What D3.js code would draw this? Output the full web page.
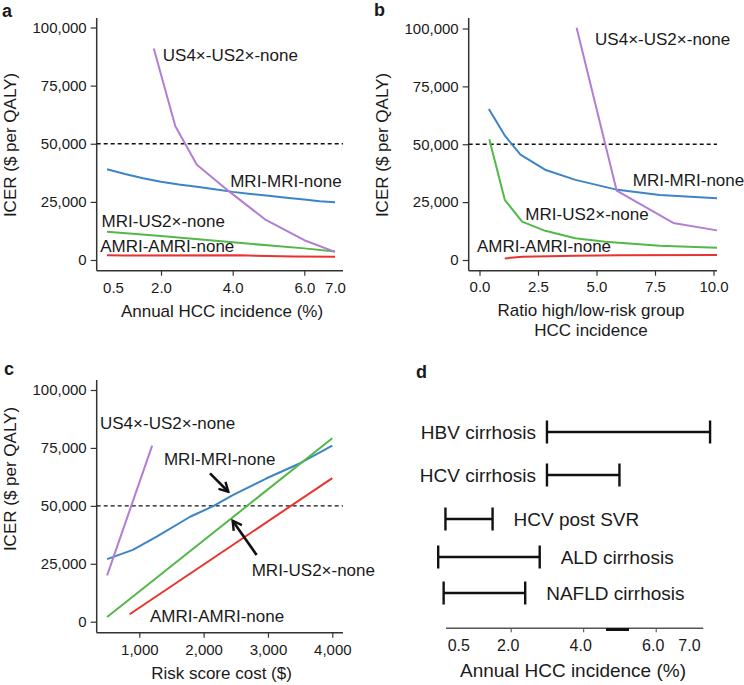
<!DOCTYPE html>
<html><head><meta charset="utf-8">
<script src="https://cdn.jsdelivr.net/npm/d3@7"></script>
<style>
body{margin:0;background:#fff}
svg{display:block}
text{font-family:"Liberation Sans",Arial,sans-serif;fill:#1a1a1a}
</style>
</head><body>
<svg id="chart" width="744" height="685"></svg>
<script>
// ---------------- DATA ----------------
const yTickValues = [0, 25000, 50000, 75000, 100000];
const wtpThreshold = 50000;
const strategyNames = ["US4×-US2×-none", "MRI-MRI-none", "MRI-US2×-none", "AMRI-AMRI-none"];
const strategyColors = ["#b27dd2", "#3d84c6", "#52b948", "#e8332e"];

// Panel a: annual HCC incidence (%)
const aTickValues = [0.5, 2, 4, 6, 7];
const aUS4X = [1.8, 2.4, 3.0, 3.9, 4.9, 6.0, 7.0];
const aUS4Y = [91000, 57500, 41000, 29500, 17500, 8500, 3500];
const aMRIX = [0.5, 1, 1.5, 2, 2.5, 3, 3.5, 4, 4.5, 5, 5.5, 6, 6.5, 7];
const aMRIY = [39000, 37000, 35200, 33700, 32500, 31500, 30400, 29300, 28400, 27600, 26800, 26000, 25300, 24800];
const aMRIUSX = [0.5, 2, 4, 6, 7];
const aMRIUSY = [12200, 10300, 7600, 5000, 3700];
const aAMRIX = [0.5, 1, 4.2, 5.7, 7];
const aAMRIY = [2000, 1900, 2000, 1500, 1400];

// Panel b: ratio high/low-risk group HCC incidence
const bTickValues = [0, 2.5, 5, 7.5, 10];
const bUS4X = [4.15, 5.86, 8.28, 10.15];
const bUS4Y = [100300, 30000, 16000, 12800];
const bMRIX = [0.4, 1.1, 1.75, 2.8, 4.1, 5.9, 7.7, 10.15];
const bMRIY = [65200, 53500, 45500, 39000, 34600, 30300, 28100, 26700];
const bMRIUSX = [0.42, 1.08, 1.82, 2.81, 4.09, 5.38, 7.7, 10.15];
const bMRIUSY = [52200, 26000, 16600, 12600, 9400, 7900, 6200, 5300];
const bAMRIX = [1.08, 1.82, 4.1, 6.0, 10.15];
const bAMRIY = [700, 1400, 1800, 2100, 2200];

// Panel c: risk score cost ($)
const cTickValues = [1000, 2000, 3000, 4000];
const cUS4X = [500, 1200];
const cUS4Y = [20000, 76000];
const cMRIX = [500, 900, 1270, 1790, 2150, 2460, 2980, 3500, 4000];
const cMRIY = [27000, 31000, 36700, 45300, 49900, 54700, 61900, 68400, 76000];
const cMRIUSX = [500, 4000];
const cMRIUSY = [2000, 79200];
const cAMRIX = [850, 4000];
const cAMRIY = [3200, 62000];

// Panel d: annual HCC incidence ranges by etiology
const dCategories = ["HBV cirrhosis", "HCV cirrhosis", "HCV post SVR", "ALD cirrhosis", "NAFLD cirrhosis"];
const dLow = [3.0, 3.0, 0.2, 0.0, 0.15];
const dHigh = [7.5, 5.0, 1.5, 2.8, 2.4];
const dLabelSide = ["left", "left", "right", "right", "right"];
const dTickValues = [0.5, 2, 4, 6, 7];

// ---------------- DRAWING ----------------
const svg = d3.select("#chart");
const fmtY = d3.format(",");
const fmt1 = d3.format(".1f");

function drawPanel(o) {
  const g = svg.append("g");
  const { x, y } = o;
  // y axis
  const yAx = g.append("g").attr("transform", `translate(${o.left},0)`)
    .call(d3.axisLeft(y).tickValues(yTickValues).tickFormat(fmtY).tickSize(6).tickPadding(4));
  yAx.select(".domain").remove();
  yAx.selectAll("line").attr("stroke", "#333").attr("stroke-width", 1.2);
  yAx.selectAll("text").style("font-size", "15px").attr("fill", "#1a1a1a");
  g.append("line").attr("x1", o.left).attr("x2", o.left).attr("y1", o.top).attr("y2", o.bottom)
    .attr("stroke", "#333").attr("stroke-width", 1.5);
  // x axis
  const xAx = g.append("g").attr("transform", `translate(0,${o.bottom})`)
    .call(d3.axisBottom(x).tickValues(o.xTicks).tickFormat(o.xFmt).tickSize(5).tickPadding(o.xPad));
  xAx.select(".domain").remove();
  xAx.selectAll("line").attr("stroke", "#333").attr("stroke-width", 1.2)
    .attr("display", d => (o.noTickMark && o.noTickMark.includes(d)) ? "none" : null);
  xAx.selectAll("text").style("font-size", "15px").attr("fill", "#1a1a1a")
    .attr("dx", d => (o.labelShift && o.labelShift[d]) ? o.labelShift[d] : 0);
  g.append("line").attr("x1", o.left).attr("x2", o.right).attr("y1", o.bottom).attr("y2", o.bottom)
    .attr("stroke", "#333").attr("stroke-width", 1.5);
  // threshold
  g.append("line").attr("x1", o.left).attr("x2", o.right)
    .attr("y1", y(wtpThreshold)).attr("y2", y(wtpThreshold))
    .attr("stroke", "#111").attr("stroke-width", 1.4).attr("stroke-dasharray", "4,3");
  // series
  const line = d3.line().x(d => x(d[0])).y(d => y(d[1]));
  o.series.forEach(s => {
    const pts = s.xs.map((v, k) => [v, s.ys[k]]);
    g.append("path").datum(pts).attr("d", line).attr("fill", "none")
      .attr("stroke", strategyColors[s.idx]).attr("stroke-width", 2)
      .attr("stroke-linejoin", "round");
  });
  // labels
  o.labels.forEach(l => {
    g.append("text").attr("x", x(l.x)).attr("y", y(l.y)).attr("dominant-baseline", "central")
      .style("font-size", "17px").text(strategyNames[l.idx]);
  });
  // y title
  g.append("text").attr("transform", `translate(${o.left - 86},${o.yTitleY}) rotate(-90)`)
    .attr("text-anchor", "middle").attr("dominant-baseline", "central")
    .style("font-size", "17px").text("ICER ($ per QALY)");
  // x title
  o.xTitle.forEach((t, i) => {
    g.append("text").attr("x", o.xTitleX).attr("y", o.xTitleY + i * 20)
      .attr("text-anchor", "middle").attr("dominant-baseline", "central")
      .style("font-size", "17px").text(t);
  });
  // panel letter
  g.append("text").attr("x", o.letterX).attr("y", o.letterY)
    .style("font-size", "18px").style("font-weight", "bold").text(o.letter);
  return g;
}

// Panel a
const xA = d3.scaleLinear().domain([0.5, 2, 4, 6, 7]).range([107, 161, 232.7, 304.3, 335]);
const yA = d3.scaleLinear().domain([0, 100000]).range([260, 27.5]);
drawPanel({
  x: xA, y: yA, left: 96.7, right: 343, top: 18, bottom: 270.7,
  xTicks: aTickValues, xFmt: fmt1, xPad: 7, noTickMark: [0.5, 7], labelShift: { 0.5: 6 },
  series: [
    { idx: 1, xs: aMRIX, ys: aMRIY },
    { idx: 2, xs: aMRIUSX, ys: aMRIUSY },
    { idx: 3, xs: aAMRIX, ys: aAMRIY },
    { idx: 0, xs: aUS4X, ys: aUS4Y }
  ],
  labels: [
    { idx: 0, x: 2.05, y: 88000 },
    { idx: 1, x: 3.93, y: 33600 },
    { idx: 2, x: 0.35, y: 16500 },
    { idx: 3, x: 0.31, y: 5700 }
  ],
  yTitleY: 145, xTitle: ["Annual HCC incidence (%)"], xTitleX: 222, xTitleY: 311.5,
  letter: "a", letterX: 2, letterY: 17
});

// Panel b
const xB = d3.scaleLinear().domain([0, 10]).range([479.5, 713.5]);
const yB = d3.scaleLinear().domain([0, 100000]).range([260, 28.5]);
drawPanel({
  x: xB, y: yB, left: 468.7, right: 717, top: 18, bottom: 270.7,
  xTicks: bTickValues, xFmt: fmt1, xPad: 6,
  series: [
    { idx: 1, xs: bMRIX, ys: bMRIY },
    { idx: 2, xs: bMRIUSX, ys: bMRIUSY },
    { idx: 3, xs: bAMRIX, ys: bAMRIY },
    { idx: 0, xs: bUS4X, ys: bUS4Y }
  ],
  labels: [
    { idx: 0, x: 4.94, y: 95200 },
    { idx: 1, x: 6.55, y: 34200 },
    { idx: 2, x: 1.96, y: 19800 },
    { idx: 3, x: -0.11, y: 5800 }
  ],
  yTitleY: 145, xTitle: ["Ratio high/low-risk group", "HCC incidence"], xTitleX: 591, xTitleY: 310,
  letter: "b", letterX: 374, letterY: 16
});

// Panel c
const xC = d3.scaleLinear().domain([1000, 4000]).range([139.3, 332.3]);
const yC = d3.scaleLinear().domain([0, 100000]).range([621.7, 390]);
const gC = drawPanel({
  x: xC, y: yC, left: 96.7, right: 343, top: 380, bottom: 632.7,
  xTicks: cTickValues, xFmt: fmtY, xPad: 7,
  series: [
    { idx: 1, xs: cMRIX, ys: cMRIY },
    { idx: 2, xs: cMRIUSX, ys: cMRIUSY },
    { idx: 3, xs: cAMRIX, ys: cAMRIY },
    { idx: 0, xs: cUS4X, ys: cUS4Y }
  ],
  labels: [
    { idx: 0, x: 389, y: 85600 },
    { idx: 1, x: 1383, y: 70100 },
    { idx: 2, x: 2747, y: 22300 },
    { idx: 3, x: 1166, y: 2200 }
  ],
  yTitleY: 479, xTitle: ["Risk score cost ($)"], xTitleX: 221.5, xTitleY: 673.5,
  letter: "c", letterX: 4, letterY: 375
});
// arrows in c (data coordinates)
const defs = svg.append("defs");
defs.append("marker").attr("id", "arr").attr("viewBox", "0 0 12 12").attr("refX", 10).attr("refY", 6)
  .attr("markerWidth", 12).attr("markerHeight", 12).attr("markerUnits", "userSpaceOnUse")
  .attr("orient", "auto")
  .append("path").attr("d", "M1,1 L10,6 L1,11").attr("fill", "none").attr("stroke", "#111").attr("stroke-width", 2.4);
const cArrows = [
  { x1: 2099, y1: 64000, x2: 2384, y2: 56100 },
  { x1: 2824, y1: 28800, x2: 2451, y2: 43600 }
];
gC.selectAll(".arrow").data(cArrows).join("line").attr("class", "arrow")
  .attr("x1", d => xC(d.x1)).attr("y1", d => yC(d.y1)).attr("x2", d => xC(d.x2)).attr("y2", d => yC(d.y2))
  .attr("stroke", "#111").attr("stroke-width", 2.6).attr("marker-end", "url(#arr)");

// Panel d
const xD = d3.scaleLinear().domain([2, 6]).range([510.7, 655.7]);
const yD = d3.scaleOrdinal().domain(dCategories).range([432, 475, 519, 557, 593]);
const gD = svg.append("g");
const dAx = gD.append("g").attr("transform", "translate(0,628.3)")
  .call(d3.axisBottom(xD).tickValues(dTickValues).tickFormat(fmt1).tickSize(4).tickPadding(7));
dAx.select(".domain").remove();
dAx.selectAll("line").attr("stroke", "#444").attr("display", d => (d === 0.5 || d === 7) ? "none" : null);
dAx.selectAll("text").style("font-size", "16px").attr("fill", "#1a1a1a").attr("dx", d => d === 0.5 ? 2 : -3);
gD.append("line").attr("x1", 446).attr("x2", 703.3).attr("y1", 628.3).attr("y2", 628.3)
  .attr("stroke", "#555").attr("stroke-width", 1.4);
gD.append("line").attr("x1", 606).attr("x2", 629).attr("y1", 629.5).attr("y2", 629.5)
  .attr("stroke", "#111").attr("stroke-width", 3);
gD.append("text").attr("x", 573).attr("y", 670.5).attr("text-anchor", "middle")
  .attr("dominant-baseline", "central").style("font-size", "19px").text("Annual HCC incidence (%)");
gD.append("text").attr("x", 416).attr("y", 378).style("font-size", "18px").style("font-weight", "bold").text("d");
dCategories.forEach((c, i) => {
  const yy = yD(c), x1 = xD(dLow[i]), x2 = xD(dHigh[i]);
  gD.append("line").attr("x1", x1).attr("x2", x2).attr("y1", yy).attr("y2", yy).attr("stroke", "#111").attr("stroke-width", 2.4);
  [x1, x2].forEach(xx => gD.append("line").attr("x1", xx).attr("x2", xx).attr("y1", yy - 11.5).attr("y2", yy + 11.5)
    .attr("stroke", "#111").attr("stroke-width", 2.4));
  const left = dLabelSide[i] === "left";
  gD.append("text").attr("x", left ? x1 - 11 : x2 + 21).attr("y", yy)
    .attr("text-anchor", left ? "end" : "start").attr("dominant-baseline", "central")
    .style("font-size", "19px").text(c);
});
</script>
</body></html>
